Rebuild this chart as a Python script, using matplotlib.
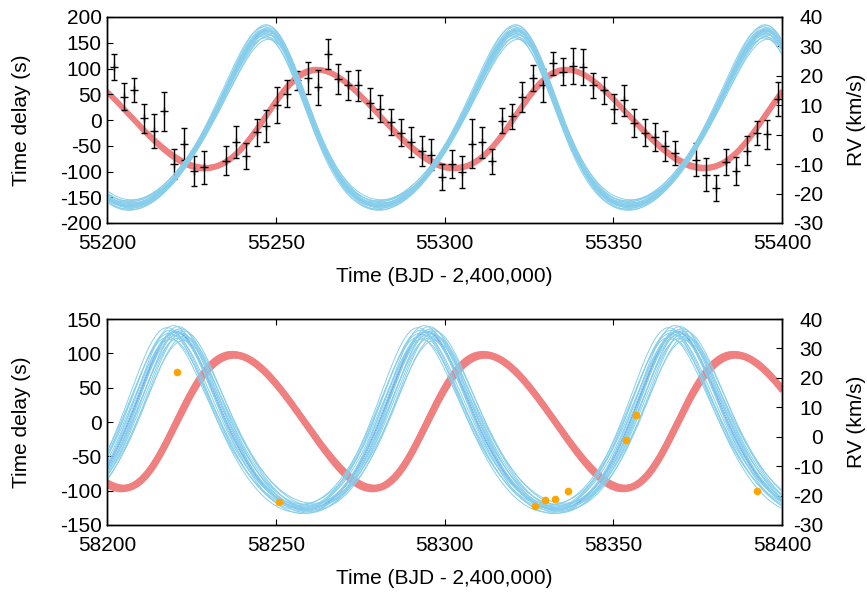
import numpy as np
import matplotlib
matplotlib.use("Agg")
import matplotlib.pyplot as plt

plt.rcParams['font.family'] = ['Liberation Sans', 'DejaVu Sans']
plt.rcParams['font.size'] = 15

# ---------------- data ----------------
# Top panel: pulsation time delays (s) with 1-sigma errors
td_time = [55202.0, 55204.9, 55207.9, 55210.9, 55213.8, 55216.8, 55219.8, 55222.7,
           55225.7, 55228.7, 55235.4, 55238.3, 55241.3, 55244.3, 55247.2, 55250.4,
           55253.2, 55256.3, 55259.5, 55262.5, 55265.5, 55268.5, 55271.4, 55274.3,
           55277.9, 55280.8, 55284.0, 55287.2, 55290.2, 55293.2, 55296.1, 55299.3,
           55302.2, 55305.1, 55308.1, 55311.1, 55314.0, 55317.1, 55320.1, 55323.1,
           55326.2, 55329.3, 55332.2, 55335.2, 55338.1, 55341.1, 55344.1, 55347.3,
           55350.3, 55353.2, 55356.2, 55359.4, 55362.4, 55365.4, 55368.3, 55374.5,
           55377.4, 55380.4, 55383.4, 55386.3, 55389.5, 55392.5, 55395.5, 55398.7]
td_delay = [103, 45, 58, 3, -21, 17, -86, -46,
            -99, -92, -79, -43, -70, -24, -11, 30,
            51, 77, 82, 64, 129, 79, 67, 67,
            33, 22, -4, -25, -43, -60, -67, -111,
            -86, -101, -46, -43, -80, -1, 7, 44,
            82, 67, 110, 94, 105, 103, 67, 58,
            22, 38, -6, -25, -33, -51, -64, -77,
            -106, -132, -82, -99, -60, -25, -28, 40]
td_err = [25, 26, 23, 29, 33, 38, 29, 31,
          30, 32, 28, 31, 25, 26, 31, 35,
          26, 18, 31, 34, 29, 29, 29, 30,
          30, 26, 26, 26, 29, 29, 31, 25,
          27, 31, 48, 30, 24, 25, 24, 29,
          25, 33, 23, 27, 35, 35, 25, 26,
          28, 30, 27, 26, 28, 29, 24, 32,
          32, 25, 25, 27, 28, 24, 28, 33]

# Bottom panel: radial velocities (km/s)
rv_time = [58220.8, 58250.9, 58326.7, 58329.7, 58332.8, 58336.7, 58353.7, 58356.6, 58392.7]
rv_vel = [21.9, -22.2, -23.4, -21.5, -21.2, -18.3, -1.1, 7.4, -18.4]

# Orbit models (best fit), one per panel:
#                 top        bottom
orb_period    = [73.93,     74.29]      # d
orb_ecc       = [0.177,     0.184]
orb_omega     = [0.442,    -0.146]      # rad
orb_tperi     = [55250.9,   58219.25]   # periastron epoch
tau_amp       = [97.5,      99.8]       # s
tau_offset    = [9.4,      -2.1]        # s
rv_K          = [29.8,      30.2]       # km/s
rv_gamma      = [0.8,       0.0]        # km/s

# Posterior draws (estimated spread of the plotted model ensembles)
tau_amp_scale = [0.965, 0.975, 0.982, 0.988, 0.993, 0.998, 1.004, 1.010, 1.018]
tau_dt_top = [0.35, -0.25, 0.10, -0.35, 0.25, 0.00, -0.15, 0.30, -0.30]
tau_dt_bot = [0.45, -0.35, 0.15, -0.45, 0.30, 0.00, -0.20, 0.40, -0.40]

rv_K_scale = [0.915, 0.928, 0.938, 0.948, 0.955, 0.965, 0.972, 0.978, 0.985,
              0.992, 0.998, 1.005, 1.012, 1.018, 1.028, 1.038, 1.048, 1.058, 1.002]
rv_dt_top = [0.6, -0.4, 0.2, -0.7, 0.8, 0.0, -0.3, 0.5, -0.6,
             0.3, -0.1, 0.7, -0.5, 0.1, 0.4, -0.8, 0.2, -0.2, 0.0]
rv_dt_bot = [2.2, -1.5, 0.8, -2.4, 2.6, 0.1, -1.0, 1.7, -2.0,
             1.1, -0.4, 2.4, -1.8, 0.5, 1.4, -2.6, 0.7, -0.7, 0.0]

xlim_top = (55200, 55400)
xlim_bot = (58200, 58400)
xticks_top = [55200, 55250, 55300, 55350, 55400]
xticks_bot = [58200, 58250, 58300, 58350, 58400]
yticks_top = [-200, -150, -100, -50, 0, 50, 100, 150, 200]
yticks_bot = [-150, -100, -50, 0, 50, 100, 150]
rvticks = [-30, -20, -10, 0, 10, 20, 30, 40]

RED = '#F08080'
SKY = '#87CEEB'
ORANGE = '#FFA500'


def true_anomaly(t, tp, P, e):
    M = 2 * np.pi * (t - tp) / P
    E = M.copy()
    for _ in range(30):
        E = E - (E - e * np.sin(E) - M) / (1 - e * np.cos(E))
    return 2 * np.arctan2(np.sqrt(1 + e) * np.sin(E / 2), np.sqrt(1 - e) * np.cos(E / 2))


def tau_model(t, i, dt, scale):
    e, w = orb_ecc[i], orb_omega[i]
    nu = true_anomaly(t, orb_tperi[i] + dt, orb_period[i], e)
    r = (1 - e ** 2) / (1 + e * np.cos(nu))
    return tau_amp[i] * scale * r * np.sin(nu + w) + tau_offset[i]


def rv_model(t, i, dt, scale):
    e, w = orb_ecc[i], orb_omega[i]
    nu = true_anomaly(t, orb_tperi[i] + dt, orb_period[i], e)
    return rv_gamma[i] + rv_K[i] * scale * (np.cos(nu + w) + e * np.cos(w))


fig = plt.figure(figsize=(8.67, 5.94), dpi=100)
L, W, H = 107 / 867, 675 / 867, 206 / 594
ax_top = fig.add_axes([L, 1 - 223 / 594, W, H])
ax_bot = fig.add_axes([L, 1 - 525 / 594, W, H])


def style(ax, ax2, xlim, xticks, ylim, yticks):
    ax.set_xlim(*xlim)
    ax.set_ylim(*ylim)
    ax.set_xticks(xticks)
    ax.set_xticklabels([str(v) for v in xticks])
    ax.set_yticks(yticks)
    ax.set_yticklabels([str(v) for v in yticks])
    ax2.set_ylim(-30, 40)
    ax2.set_yticks(rvticks)
    ax2.set_yticklabels([str(v) for v in rvticks])
    ax.tick_params(axis='x', direction='in', top=True, bottom=True, length=4, width=0.8,
                   pad=8, labelsize=15)
    ax.tick_params(axis='y', direction='in', left=True, right=False, length=4, width=0.8,
                   pad=3.8, labelsize=15)
    ax2.tick_params(axis='y', direction='in', right=True, left=False, length=4, width=0.8,
                    pad=29.5, labelsize=15)
    for lab in ax2.get_yticklabels():
        lab.set_horizontalalignment('right')
    for a in (ax, ax2):
        for s in a.spines.values():
            s.set_linewidth(1.0)
            s.set_color('black')
    ax.set_xlabel('Time (BJD - 2,400,000)')
    ax.set_ylabel('Time delay (s)')
    ax2.set_ylabel('RV (km/s)', rotation=90)
    ax.xaxis.label.set_va('center')
    ax.yaxis.label.set_va('center')
    ax2.yaxis.label.set_va('center')
    ax.xaxis.set_label_coords(0.5, (223 - 277) / 206)
    ax.yaxis.set_label_coords((21.7 - 107) / 675, 0.5)
    ax2.yaxis.set_label_coords((856.7 - 107) / 675, 0.5)


# ---------------- top panel ----------------
ax2_top = ax_top.twinx()
t_top = np.linspace(xlim_top[0], xlim_top[1], 1500)
for sc, dt in zip(tau_amp_scale, tau_dt_top):
    ax_top.plot(t_top, tau_model(t_top, 0, dt, sc), color=RED, lw=2.6,
                solid_capstyle='butt', zorder=1)
ax_top.errorbar(td_time, td_delay, yerr=td_err, fmt='+', color='black', ms=6, mew=1.0,
                elinewidth=1.0, capsize=2.0, capthick=1.0, zorder=3)
ax2_top.plot(t_top, rv_model(t_top, 0, 0.0, 1.0), color='blue', lw=0.8, zorder=1)
for sc, dt in zip(rv_K_scale, rv_dt_top):
    ax2_top.plot(t_top, rv_model(t_top, 0, dt, sc), color=SKY, lw=0.7, zorder=2)
style(ax_top, ax2_top, xlim_top, xticks_top, (-200, 200), yticks_top)

# ---------------- bottom panel ----------------
ax2_bot = ax_bot.twinx()
t_bot = np.linspace(xlim_bot[0], xlim_bot[1], 1500)
for sc, dt in zip(tau_amp_scale, tau_dt_bot):
    ax_bot.plot(t_bot, tau_model(t_bot, 1, dt, sc), color=RED, lw=3.0,
                solid_capstyle='butt', zorder=1)
ax2_bot.plot(t_bot, rv_model(t_bot, 1, 0.0, 1.0), color='blue', lw=0.8, zorder=1)
for sc, dt in zip(rv_K_scale, rv_dt_bot):
    ax2_bot.plot(t_bot, rv_model(t_bot, 1, dt, sc), color=SKY, lw=0.7, zorder=2)
ax2_bot.plot(rv_time, rv_vel, 'o', color=ORANGE, ms=5.5, mec='none', zorder=5)
style(ax_bot, ax2_bot, xlim_bot, xticks_bot, (-150, 150), yticks_bot)

fig.savefig('out.png', dpi=100)
